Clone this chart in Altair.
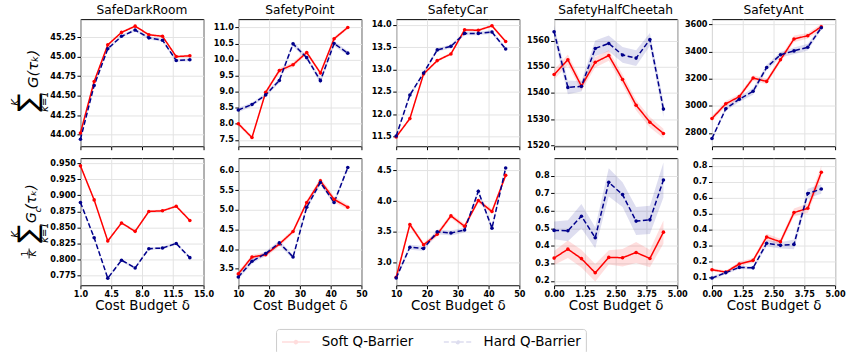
import altair as alt
import pandas as pd

methods = ["Soft Q-Barrier", "Hard Q-Barrier"]
colors = ["#ff0000", "#00008b"]

# budgets (x) per environment
x_darkroom = [1.0, 2.56, 4.11, 5.67, 7.22, 8.78, 10.33, 11.89, 13.44]
x_point = [10.0, 14.44, 18.89, 23.33, 27.78, 32.22, 36.67, 41.11, 45.56]
x_car = [10.0, 14.44, 18.89, 23.33, 27.78, 32.22, 36.67, 41.11, 45.56]
x_cheetah = [0.0, 0.56, 1.11, 1.67, 2.22, 2.78, 3.33, 3.89, 4.44]
x_ant = [0.0, 0.56, 1.11, 1.67, 2.22, 2.78, 3.33, 3.89, 4.44]

# returns (top row)
ret_darkroom_soft = [44.02, 44.68, 45.15, 45.31, 45.39, 45.28, 45.26, 45.00, 45.01]
ret_darkroom_hard = [43.94, 44.63, 45.10, 45.26, 45.34, 45.24, 45.21, 44.95, 44.96]
ret_point_soft = [8.00, 7.57, 8.98, 9.66, 9.84, 10.22, 9.58, 10.65, 11.00]
ret_point_hard = [8.43, 8.60, 8.90, 9.35, 10.49, 10.06, 9.34, 10.50, 10.20]
ret_car_soft = [11.49, 11.90, 12.90, 13.20, 13.35, 13.89, 13.88, 13.98, 13.63]
ret_car_hard = [11.51, 12.43, 12.92, 13.44, 13.52, 13.81, 13.81, 13.84, 13.46]
ret_cheetah_soft = [1547.0, 1552.7, 1542.6, 1551.7, 1554.3, 1545.1, 1535.3, 1528.8, 1524.5]
ret_cheetah_hard = [1563.4, 1542.1, 1542.5, 1557.0, 1558.9, 1554.5, 1553.3, 1560.4, 1533.8]
ret_ant_soft = [2907, 3015, 3068, 3205, 3180, 3339, 3493, 3517, 3583]
ret_ant_hard = [2759, 2978, 3049, 3107, 3283, 3376, 3405, 3432, 3576]

# costs (bottom row)
cost_darkroom_soft = [0.946, 0.893, 0.829, 0.857, 0.844, 0.875, 0.876, 0.883, 0.861]
cost_darkroom_hard = [0.889, 0.834, 0.771, 0.799, 0.787, 0.817, 0.818, 0.825, 0.803]
cost_point_soft = [3.37, 3.80, 3.86, 4.13, 4.45, 5.19, 5.74, 5.27, 5.07]
cost_point_hard = [3.29, 3.69, 3.89, 4.16, 3.80, 5.07, 5.70, 5.19, 6.08]
cost_car_soft = [2.76, 3.62, 3.29, 3.46, 3.76, 3.59, 4.01, 3.83, 4.42]
cost_car_hard = [2.75, 3.25, 3.23, 3.50, 3.48, 3.53, 4.16, 3.56, 4.54]
cost_cheetah_soft = [0.330, 0.381, 0.327, 0.246, 0.334, 0.332, 0.362, 0.328, 0.478]
cost_cheetah_hard = [0.488, 0.486, 0.569, 0.446, 0.762, 0.692, 0.541, 0.548, 0.775]
cost_ant_soft = [0.149, 0.135, 0.185, 0.208, 0.354, 0.324, 0.507, 0.534, 0.760]
cost_ant_hard = [0.097, 0.131, 0.164, 0.161, 0.315, 0.302, 0.308, 0.627, 0.655]

# band half-widths
sd_ret_darkroom_soft = [0.015, 0.015, 0.015, 0.015, 0.015, 0.015, 0.015, 0.015, 0.015]
sd_ret_darkroom_hard = [0.02, 0.02, 0.02, 0.02, 0.02, 0.02, 0.02, 0.02, 0.02]
sd_ret_point_soft = [0.06, 0.06, 0.06, 0.08, 0.08, 0.06, 0.06, 0.06, 0.05]
sd_ret_point_hard = [0.07, 0.06, 0.06, 0.08, 0.08, 0.06, 0.10, 0.08, 0.07]
sd_ret_car_soft = [0.03, 0.03, 0.03, 0.03, 0.03, 0.03, 0.03, 0.03, 0.03]
sd_ret_car_hard = [0.04, 0.04, 0.04, 0.04, 0.04, 0.04, 0.04, 0.04, 0.04]
sd_ret_cheetah_soft = [1.8, 2.0, 1.8, 2.0, 2.0, 2.0, 2.0, 2.0, 1.8]
sd_ret_cheetah_hard = [2.5, 2.6, 2.0, 3.0, 3.0, 3.0, 3.0, 2.5, 3.0]
sd_ret_ant_soft = [20, 20, 20, 20, 20, 20, 25, 20, 20]
sd_ret_ant_hard = [15, 15, 20, 25, 20, 20, 25, 25, 15]
sd_cost_darkroom_soft = [0.002, 0.002, 0.002, 0.002, 0.002, 0.002, 0.002, 0.002, 0.002]
sd_cost_darkroom_hard = [0.002, 0.002, 0.002, 0.002, 0.002, 0.002, 0.002, 0.002, 0.002]
sd_cost_point_soft = [0.06, 0.06, 0.06, 0.06, 0.06, 0.06, 0.08, 0.08, 0.06]
sd_cost_point_hard = [0.06, 0.06, 0.06, 0.06, 0.06, 0.06, 0.06, 0.06, 0.06]
sd_cost_car_soft = [0.04, 0.04, 0.04, 0.04, 0.04, 0.04, 0.04, 0.04, 0.04]
sd_cost_car_hard = [0.04, 0.04, 0.04, 0.04, 0.04, 0.04, 0.04, 0.04, 0.04]
sd_cost_cheetah_soft = [0.04, 0.05, 0.05, 0.05, 0.04, 0.05, 0.06, 0.05, 0.066]
sd_cost_cheetah_hard = [0.05, 0.06, 0.07, 0.06, 0.08, 0.07, 0.08, 0.08, 0.10]
sd_cost_ant_soft = [0.01, 0.01, 0.015, 0.015, 0.02, 0.02, 0.025, 0.03, 0.04]
sd_cost_ant_hard = [0.01, 0.01, 0.01, 0.01, 0.02, 0.02, 0.03, 0.03, 0.03]

titles = ["SafeDarkRoom", "SafetyPoint", "SafetyCar", "SafetyHalfCheetah", "SafetyAnt"]

xdoms = [[1, 15], [10, 50], [10, 50], [0, 5], [0, 5]]
xticks = [[1, 4.5, 8, 11.5, 15], [10, 20, 30, 40, 50], [10, 20, 30, 40, 50],
          [0, 1.25, 2.5, 3.75, 5], [0, 1.25, 2.5, 3.75, 5]]
xfmts = [".1f", "d", "d", ".2f", ".2f"]

ret_doms = [[43.85, 45.48], [7.30, 11.26], [11.28, 14.13], [1519.6, 1568.2], [2702, 3639]]
ret_ticks = [[44.0, 44.25, 44.5, 44.75, 45.0, 45.25],
             [7.5, 8.0, 8.5, 9.0, 9.5, 10.0, 10.5, 11.0],
             [11.5, 12.0, 12.5, 13.0, 13.5, 14.0],
             [1520, 1530, 1540, 1550, 1560],
             [2800, 3000, 3200, 3400, 3600]]
ret_fmts = [".2f", ".1f", ".1f", "d", "d"]

cost_doms = [[0.760, 0.958], [3.08, 6.32], [2.63, 4.70], [0.175, 0.90], [0.052, 0.848]]
cost_ticks = [[0.775, 0.8, 0.825, 0.85, 0.875, 0.9, 0.925, 0.95],
              [3.5, 4.0, 4.5, 5.0, 5.5, 6.0],
              [3.0, 3.5, 4.0, 4.5],
              [0.2, 0.3, 0.4, 0.5, 0.6, 0.7, 0.8],
              [0.1, 0.2, 0.3, 0.4, 0.5, 0.6, 0.7, 0.8]]
cost_fmts = [".3f", ".1f", ".1f", ".1f", ".1f"]

xs_all = [x_darkroom, x_point, x_car, x_cheetah, x_ant]
ret_all = [(ret_darkroom_soft, ret_darkroom_hard), (ret_point_soft, ret_point_hard),
           (ret_car_soft, ret_car_hard), (ret_cheetah_soft, ret_cheetah_hard),
           (ret_ant_soft, ret_ant_hard)]
ret_sd_all = [(sd_ret_darkroom_soft, sd_ret_darkroom_hard), (sd_ret_point_soft, sd_ret_point_hard),
              (sd_ret_car_soft, sd_ret_car_hard), (sd_ret_cheetah_soft, sd_ret_cheetah_hard),
              (sd_ret_ant_soft, sd_ret_ant_hard)]
cost_all = [(cost_darkroom_soft, cost_darkroom_hard), (cost_point_soft, cost_point_hard),
            (cost_car_soft, cost_car_hard), (cost_cheetah_soft, cost_cheetah_hard),
            (cost_ant_soft, cost_ant_hard)]
cost_sd_all = [(sd_cost_darkroom_soft, sd_cost_darkroom_hard), (sd_cost_point_soft, sd_cost_point_hard),
               (sd_cost_car_soft, sd_cost_car_hard), (sd_cost_cheetah_soft, sd_cost_cheetah_hard),
               (sd_cost_ant_soft, sd_cost_ant_hard)]

# y-axis math labels (text, dx, dy, size, style) relative to the plot origin
top_label = [("G(τₖ)", -48, 50, 15, "italic"),
             ("∑", -52, 84, 27, "normal"),
             ("K", -64.5, 84, 10, "italic"),
             ("k=1", -36, 83, 10, "italic")]
bottom_label = [("G", -49, 60, 14, "italic"),
                ("c", -43, 52, 9.5, "italic"),
                ("(τₖ)", -49, 39, 14, "italic"),
                ("∑", -52, 76, 27, "normal"),
                ("K", -64.5, 77, 10, "italic"),
                ("k=1", -36, 75, 10, "italic"),
                ("1", -56, 96, 9.5, "normal"),
                ("K", -47.5, 96, 9.5, "italic")]

W, H = 124, 128

color_scale = alt.Scale(domain=methods, range=colors)
dash_scale = alt.Scale(domain=methods, range=[[1, 0], [5, 2.5]])
# line segment 28 px wide (asymmetric so the layout box is 14 px) with a dot at its middle
SYM = "M-1,0H3M1.22,0A0.22,0.22,0,1,1,0.78,0A0.22,0.22,0,1,1,1.22,0"
legend = alt.Legend(title=None, orient="none", legendX=197, legendY=312, direction="horizontal",
                    symbolType=SYM, symbolSize=196, symbolStrokeWidth=1.5,
                    labelFontSize=13.5, labelFont="DejaVu Sans", labelColor="black",
                    labelOffset=25, columnPadding=27, padding=5,
                    strokeColor="#cccccc", cornerRadius=3, fillColor="white")


def make_panel(xs, pair, sds, ydom, yticks, yfmt, i, bottom, title=None, label_items=None, fraction_bar=False):
    rows = []
    for m, ys, ss in ((methods[0], pair[0], sds[0]), (methods[1], pair[1], sds[1])):
        for x, y, s in zip(xs, ys, ss):
            rows.append({"method": m, "x": x, "y": y, "lo": y - s, "hi": y + s})
    df = pd.DataFrame(rows)
    base = alt.Chart(df)
    xenc = alt.X("x:Q", scale=alt.Scale(domain=xdoms[i], nice=False, zero=False),
                 axis=alt.Axis(values=xticks[i], format=xfmts[i], labels=bottom,
                               title="Cost Budget δ" if bottom else None))
    yscale = alt.Scale(domain=ydom, nice=False, zero=False)
    yaxis = alt.Axis(values=yticks, format=yfmt, title=None)
    cenc = alt.Color("method:N", scale=color_scale, legend=legend)
    band = base.mark_area(opacity=0.13).encode(
        x=xenc, y=alt.Y("lo:Q", scale=yscale, axis=yaxis), y2="hi:Q",
        color=cenc, detail="method:N")
    line = base.mark_line(strokeWidth=1.5).encode(
        x=xenc, y=alt.Y("y:Q", scale=yscale, axis=yaxis),
        color=cenc,
        strokeDash=alt.StrokeDash("method:N", scale=dash_scale, legend=legend))
    pts = base.mark_circle(size=13, opacity=1).encode(
        x=xenc, y=alt.Y("y:Q", scale=yscale, axis=yaxis), color=cenc)
    layers = [band, line, pts]
    if label_items:
        for txt, dx, dy, sz, st in label_items:
            t = alt.Chart(pd.DataFrame({"t": [txt]})).mark_text(
                angle=270, align="center", baseline="middle", fontSize=sz,
                fontStyle=st, font="DejaVu Sans", color="black").encode(
                x=alt.value(dx), y=alt.value(dy), text="t:N")
            layers.append(t)
    if fraction_bar:
        r = alt.Chart(pd.DataFrame({"t": [0]})).mark_rule(color="black", strokeWidth=0.9).encode(
            x=alt.value(-51.7), y=alt.value(91), y2=alt.value(101))
        layers.append(r)
    ch = alt.layer(*layers).properties(width=W, height=H)
    if title:
        ch = ch.properties(title=alt.TitleParams(title, anchor="middle"))
    return ch


panels = []
for i in range(5):
    panels.append(make_panel(xs_all[i], ret_all[i], ret_sd_all[i], ret_doms[i], ret_ticks[i], ret_fmts[i],
                             i, False, title=titles[i], label_items=top_label if i == 0 else None))
for i in range(5):
    panels.append(make_panel(xs_all[i], cost_all[i], cost_sd_all[i], cost_doms[i], cost_ticks[i], cost_fmts[i],
                             i, True, label_items=bottom_label if i == 0 else None, fraction_bar=(i == 0)))

chart = alt.concat(*panels, columns=5, spacing={"row": 12, "column": 35}, bounds="flush").resolve_scale(
    color="shared", strokeDash="shared").properties(
    padding={"left": 11, "top": 2, "right": 5, "bottom": 5}).configure_view(
    stroke="black", strokeWidth=1).configure_axis(
    domain=False, grid=True, gridColor="#e3e3e3", gridWidth=1, tickColor="black", tickSize=3.5,
    tickWidth=1, labelFont="DejaVu Sans", labelFontWeight="bold", labelFontSize=8.2,
    labelColor="black", labelPadding=1.5, labelFlush=False, labelOverlap=False,
    titleFont="DejaVu Sans", titleFontWeight="normal", titleFontSize=13.5, titleColor="black",
    titlePadding=1).configure_title(
    font="DejaVu Sans", fontSize=12.3, fontWeight="normal", color="black", offset=3)

chart.save("out.html", embed_options={"renderer": "svg", "actions": False})
